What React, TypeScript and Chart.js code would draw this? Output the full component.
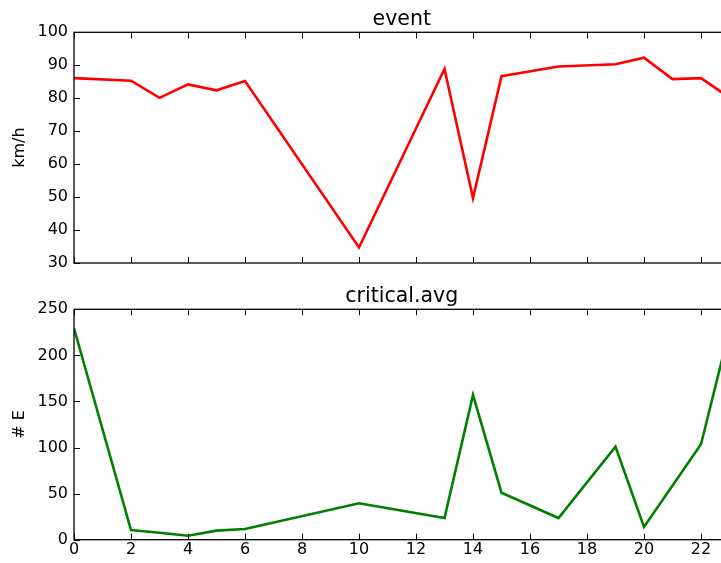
import React, { useEffect, useRef } from "react";
import { Chart, registerables } from "chart.js";

Chart.register(...registerables);

// ---- data ----
const eventHours = [0, 2, 3, 4, 5, 6, 10, 13, 14, 15, 17, 19, 20, 21, 22, 23];
const eventSpeed = [86.1, 85.3, 80.1, 84.2, 82.4, 85.2, 34.7, 88.9, 49.7, 86.7, 89.6, 90.3, 92.3, 85.8, 86.1, 80.2];

const critHours = [0, 2, 3, 4, 5, 6, 10, 13, 14, 15, 17, 19, 20, 22, 23];
const critCount = [229.4, 10.5, 7.6, 4.3, 9.8, 11.6, 39.5, 23.5, 157, 51, 23.5, 101, 13.8, 103.5, 228];

const xRange = [0, 23];
const speedRange = [30, 100];
const countRange = [0, 250];

const FONT = "'DejaVu Sans', 'Liberation Sans', sans-serif";

const mplFrame = {
  id: "mplFrame",
  afterDraw(chart: any, _args: any, opts: any) {
    const { ctx, chartArea: a, scales } = chart;
    ctx.save();
    ctx.strokeStyle = "#000";
    ctx.lineWidth = 1;
    const L = 6;
    ctx.beginPath();
    scales.x.ticks.forEach((t: any) => {
      const px = Math.round(scales.x.getPixelForValue(t.value)) + 0.5;
      ctx.moveTo(px, a.bottom);
      ctx.lineTo(px, a.bottom - L);
      ctx.moveTo(px, a.top);
      ctx.lineTo(px, a.top + L);
    });
    scales.y.ticks.forEach((t: any) => {
      const py = Math.round(scales.y.getPixelForValue(t.value)) + 0.5;
      ctx.moveTo(a.left, py);
      ctx.lineTo(a.left + L, py);
      ctx.moveTo(a.right, py);
      ctx.lineTo(a.right - L, py);
    });
    ctx.stroke();
    ctx.lineWidth = 1.3;
    ctx.strokeRect(a.left, a.top, a.right - a.left, a.bottom - a.top);
    ctx.fillStyle = "#000";
    ctx.font = `20.5px ${FONT}`;
    ctx.textAlign = "center";
    ctx.textBaseline = "alphabetic";
    ctx.fillText(opts.text, (a.left + a.right) / 2, a.top - 7);
    ctx.restore();
  },
};

function buildConfig(
  xs: number[],
  ys: number[],
  color: string,
  title: string,
  yTitle: string,
  yRange: number[],
  yStep: number,
  showX: boolean,
  padTop: number,
  xHeight: number
): any {
  return {
    type: "line",
    data: {
      datasets: [
        {
          data: xs.map((x, i) => ({ x, y: ys[i] })),
          borderColor: color,
          borderWidth: 2.6,
          pointRadius: 0,
          tension: 0,
          fill: false,
        },
      ],
    },
    options: {
      responsive: false,
      maintainAspectRatio: false,
      animation: false,
      layout: { padding: { top: padTop, right: 10.5, left: 0, bottom: 0 } },
      plugins: {
        legend: { display: false },
        tooltip: { enabled: false },
        title: { display: false },
        mplFrame: { text: title },
      },
      scales: {
        x: {
          type: "linear",
          min: xRange[0],
          max: xRange[1],
          grid: { display: false, drawTicks: false },
          border: { display: false },
          ticks: {
            display: showX,
            stepSize: 2,
            includeBounds: false,
            autoSkip: false,
            maxRotation: 0,
            minRotation: 0,
            padding: 1,
            color: "#000",
            font: { family: FONT, size: 16 },
          },
          afterFit: (s: any) => {
            s.height = xHeight;
          },
        },
        y: {
          min: yRange[0],
          max: yRange[1],
          grid: { display: false, drawTicks: false },
          border: { display: false },
          title: {
            display: true,
            text: yTitle,
            color: "#000",
            font: { family: FONT, size: 16 },
            padding: { top: 10.5, bottom: 0 },
          },
          ticks: {
            stepSize: yStep,
            autoSkip: false,
            padding: 6,
            color: "#000",
            font: { family: FONT, size: 16 },
          },
          afterFit: (s: any) => {
            s.width = 74;
          },
        },
      },
    },
    plugins: [mplFrame],
  };
}

export default function App() {
  const topRef = useRef<HTMLCanvasElement>(null);
  const botRef = useRef<HTMLCanvasElement>(null);

  useEffect(() => {
    const c1 = new Chart(
      topRef.current as HTMLCanvasElement,
      buildConfig(eventHours, eventSpeed, "#ff0000", "event", "km/h", speedRange, 10, false, 32.3, 22)
    );
    const c2 = new Chart(
      botRef.current as HTMLCanvasElement,
      buildConfig(critHours, critCount, "#008000", "critical.avg", "# E", countRange, 50, true, 24.3, 23.3)
    );
    return () => {
      c1.destroy();
      c2.destroy();
    };
  }, []);

  return (
    <div
      style={{
        position: "fixed",
        left: 0,
        top: 0,
        width: 721,
        height: 563,
        overflow: "hidden",
        background: "#fff",
      }}
    >
      <canvas ref={topRef} width={740} height={285} style={{ display: "block", width: 740, height: 285 }} />
      <canvas ref={botRef} width={740} height={278} style={{ display: "block", width: 740, height: 278 }} />
    </div>
  );
}
